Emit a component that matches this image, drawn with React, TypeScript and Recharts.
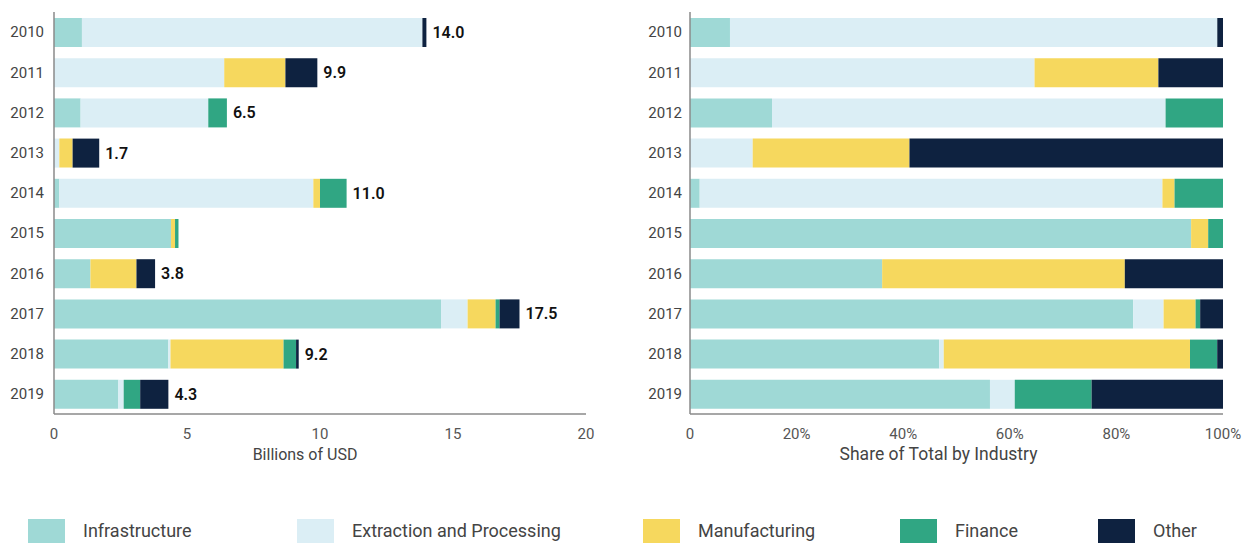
import React from 'react';
import { BarChart, Bar, XAxis, YAxis, LabelList } from 'recharts';

// values in billions of USD
const years = ['2010', '2011', '2012', '2013', '2014', '2015', '2016', '2017', '2018', '2019'];
const infrastructure = [1.05, 0, 1.0, 0, 0.2, 4.4, 1.37, 14.55, 4.3, 2.42];
const extraction = [12.8, 6.4, 4.8, 0.2, 9.55, 0, 0, 1.0, 0.08, 0.2];
const manufacturing = [0, 2.3, 0, 0.5, 0.25, 0.15, 1.73, 1.05, 4.25, 0];
const finance = [0, 0, 0.7, 0, 1.0, 0.13, 0, 0.15, 0.47, 0.62];
const other = [0.15, 1.2, 0, 1.0, 0, 0, 0.7, 0.75, 0.1, 1.06];
const totalLabels = ['14.0', '9.9', '6.5', '1.7', '11.0', null, '3.8', '17.5', '9.2', '4.3'];

const usdTicks = [0, 5, 10, 15, 20];
const shareTicks = [0, 0.2, 0.4, 0.6, 0.8, 1];

const series = [
  { key: 'infrastructure', name: 'Infrastructure', color: '#9fd9d6' },
  { key: 'extraction', name: 'Extraction and Processing', color: '#dbeef5' },
  { key: 'manufacturing', name: 'Manufacturing', color: '#f6d85e' },
  { key: 'finance', name: 'Finance', color: '#30a683' },
  { key: 'other', name: 'Other', color: '#0e2240' },
];

const data = years.map((year, i) => {
  const row: any = {
    year,
    infrastructure: infrastructure[i],
    extraction: extraction[i],
    manufacturing: manufacturing[i],
    finance: finance[i],
    other: other[i],
    label: totalLabels[i],
  };
  // the total goes after the last non-empty segment of the row
  row.lastKey = series.filter((s) => row[s.key] > 0).pop()?.key;
  return row;
});

const FONT = "Roboto, 'DejaVu Sans', sans-serif";
const AXIS = '#8a8a8a';

// legend placement (left edges of swatches)
const legendX = [28, 297, 643, 900, 1098];

const makeTotalLabel = (key: string) => (props: any) => {
  const { x, y, width, height, value } = props;
  const row = data.find((d) => d.year === value);
  if (!row || row.lastKey !== key || row.label == null) return null;
  return (
    <text
      x={Number(x) + Number(width) + 6}
      y={Number(y) + Number(height) / 2}
      dominantBaseline="central"
      fontSize={16}
      fontWeight={600}
      fill="#111"
      fontFamily={FONT}
    >
      {row.label}
    </text>
  );
};

const App: React.FC = () => {
  const yTick = { fontSize: 15, fill: '#444', fontFamily: FONT };
  const xTick = { fontSize: 15, fill: '#555', fontFamily: FONT };

  return (
    <div style={{ position: 'absolute', left: 0, top: 0, width: 1250, height: 543, background: '#fff', fontFamily: FONT, overflow: 'hidden' }}>
      <div style={{ position: 'absolute', left: 0, top: 0 }}>
        <BarChart width={620} height={470} data={data} layout="vertical" margin={{ top: 12, right: 34, bottom: 6, left: 0 }}>
          <XAxis
            type="number"
            domain={[0, 20]}
            ticks={usdTicks}
            tickLine={false}
            tickMargin={8}
            tick={xTick}
            axisLine={{ stroke: AXIS, strokeWidth: 1.5 }}
            height={50}
            label={{ value: 'Billions of USD', position: 'insideBottom', offset: 4, dx: -15, fontSize: 16, fill: '#444', fontFamily: FONT }}
          />
          <YAxis
            type="category"
            dataKey="year"
            width={54}
            tickLine={false}
            tickMargin={4}
            tick={yTick}
            axisLine={{ stroke: AXIS, strokeWidth: 1.5 }}
          />
          {series.map((s) => (
            <Bar key={s.key} dataKey={s.key} name={s.name} stackId="a" fill={s.color} barSize={29} isAnimationActive={false}>
              <LabelList dataKey="year" content={makeTotalLabel(s.key)} />
            </Bar>
          ))}
        </BarChart>
      </div>

      <div style={{ position: 'absolute', left: 630, top: 0 }}>
        <BarChart
          width={620}
          height={470}
          data={data}
          layout="vertical"
          stackOffset="expand"
          margin={{ top: 12, right: 27, bottom: 6, left: 0 }}
        >
          <XAxis
            type="number"
            domain={[0, 1]}
            ticks={shareTicks}
            tickFormatter={(v: number) => (v === 0 ? '0' : `${Math.round(v * 100)}%`)}
            tickLine={false}
            tickMargin={8}
            tick={xTick}
            axisLine={{ stroke: AXIS, strokeWidth: 1.5 }}
            height={50}
            label={{ value: 'Share of Total by Industry', position: 'insideBottom', offset: 4, dx: -18, fontSize: 17.5, fill: '#444', fontFamily: FONT }}
          />
          <YAxis
            type="category"
            dataKey="year"
            width={60}
            tickLine={false}
            tickMargin={2}
            tick={yTick}
            axisLine={{ stroke: AXIS, strokeWidth: 1.5 }}
          />
          {series.map((s) => (
            <Bar key={s.key} dataKey={s.key} name={s.name} stackId="a" fill={s.color} barSize={29} isAnimationActive={false} />
          ))}
        </BarChart>
      </div>

      {series.map((s, i) => (
        <div key={s.key} style={{ position: 'absolute', left: legendX[i], top: 519, display: 'flex', alignItems: 'center' }}>
          <div style={{ width: 37, height: 24, background: s.color }} />
          <span style={{ marginLeft: 18, fontSize: 18, color: '#444', lineHeight: '24px' }}>{s.name}</span>
        </div>
      ))}
    </div>
  );
};

export default App;
